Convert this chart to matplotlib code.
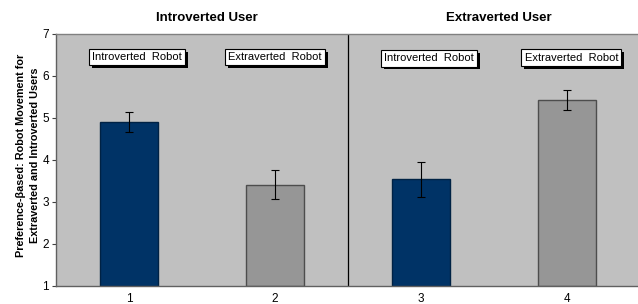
import matplotlib.pyplot as plt
import matplotlib.patheffects as pe

plt.rcParams['font.family'] = ['Liberation Sans', 'DejaVu Sans']

categories = [1, 2, 3, 4]
means = [4.90, 3.41, 3.54, 5.43]
errors = [0.24, 0.35, 0.41, 0.24]
bar_colors = ['#003366', '#969696', '#003366', '#969696']
edge_colors = ['#002244', '#4d4d4d', '#002244', '#4d4d4d']
group_titles = ['Introverted User', 'Extraverted User']
robot_labels = ['Introverted  Robot', 'Extraverted  Robot',
                'Introverted  Robot', 'Extraverted  Robot']
ylabel = 'Preference-\u03b2ased: Robot Movement for\nExtraverted and Introverted Users'

fig = plt.figure(figsize=(6.38, 3.04), dpi=100)
ax = fig.add_axes([56 / 638, 18 / 304, 584 / 638, 252 / 304])
ax.set_facecolor('#c0c0c0')

ax.bar(categories, [m - 1 for m in means], bottom=1, width=0.40,
       color=bar_colors, edgecolor=edge_colors, linewidth=1.0, zorder=2)
ax.errorbar(categories, means, yerr=errors, fmt='none', ecolor='black',
            elinewidth=0.8, capsize=3, capthick=0.8, zorder=3)

ax.set_xlim(0.5, 4.5)
ax.set_ylim(1, 7)
ax.set_xticks(categories)
ax.set_xticklabels([str(c) for c in categories], fontsize=8.5)
ax.tick_params(axis='x', length=0, pad=5)
ax.tick_params(axis='y', length=3, width=0.8, labelsize=8.5, pad=2,
               color='#404040')
ax.set_yticks(range(1, 8))

ax.axvline(2.5, color='black', linewidth=0.9, zorder=1)

for s in ['top', 'right']:
    ax.spines[s].set_color('#808080')
ax.spines['left'].set_color('#606060')
ax.spines['bottom'].set_color('#606060')
for s in ax.spines.values():
    s.set_linewidth(1.0)

for i, title in enumerate(group_titles):
    ax.text(1.5 + 2 * i + 0.03, 1.04, title, transform=ax.get_xaxis_transform(),
            ha='center', va='bottom', fontsize=9.5, fontweight='bold')

label_x = [1.055, 2.0, 3.055, 4.03]
label_y = [6.45, 6.45, 6.42, 6.44]
for x, y, lab in zip(label_x, label_y, robot_labels):
    ax.text(x, y, lab, ha='center', va='center', fontsize=8, zorder=4,
            bbox=dict(boxstyle='square,pad=0.3', facecolor='white',
                      edgecolor='black', linewidth=0.8,
                      path_effects=[pe.withSimplePatchShadow(offset=(2, -2),
                                                             shadow_rgbFace='black',
                                                             alpha=1.0)]))

fig.text(28 / 638, 0.49, ylabel, rotation=90, ha='center', va='center',
         fontsize=7.8, fontweight='bold', multialignment='center',
         linespacing=1.4)

fig.savefig('out.png', dpi=100, facecolor='white')
